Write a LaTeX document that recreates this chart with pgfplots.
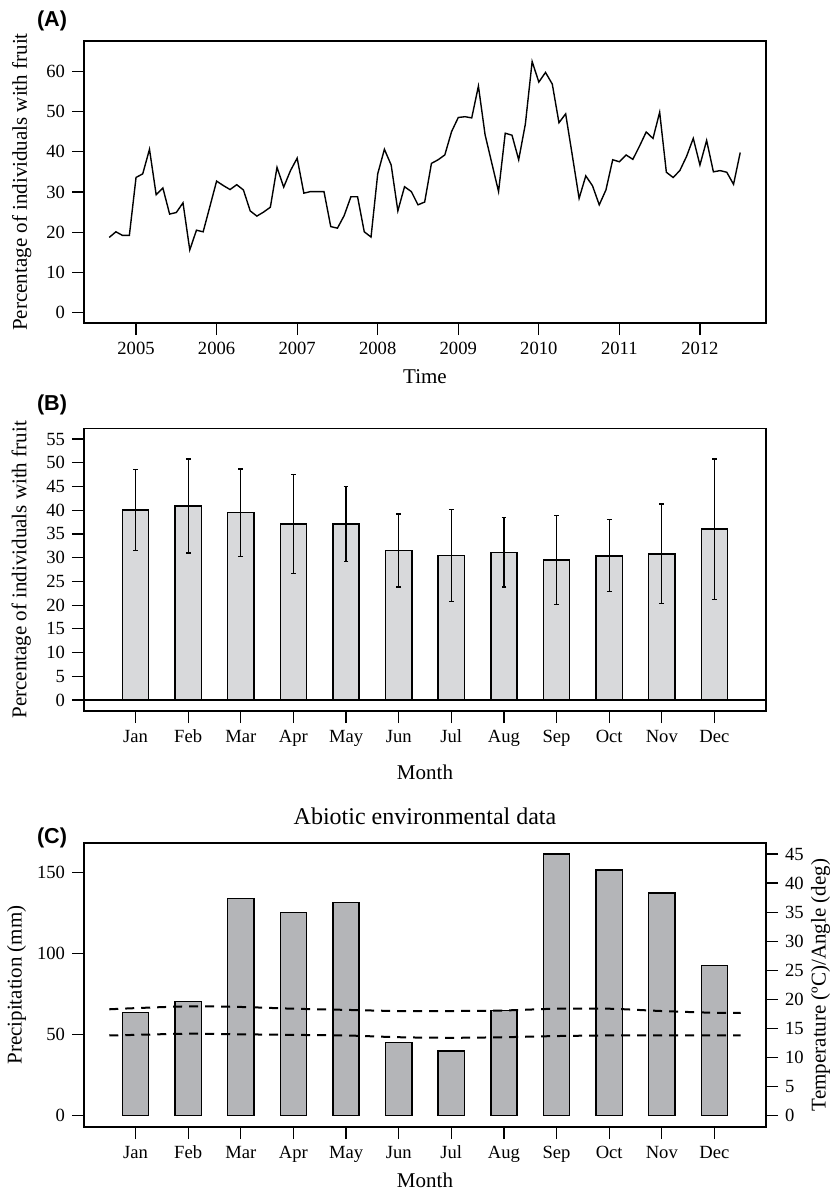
\documentclass[border=0pt]{standalone}
\usepackage{fontspec}
\setmainfont{Liberation Serif}
\newfontfamily\panelfont{Liberation Sans}
\usepackage{pgfplots}
\pgfplotsset{compat=1.18}

\definecolor{BarLight}{HTML}{D8D9DB}
\definecolor{BarMid}{HTML}{B4B5B8}

\pgfplotsset{
  rstyle/.style={
    scale only axis,
    anchor=south west,
    width=341pt,
    tick align=outside,
    major tick length=6pt,
    axis line style={line width=0.75pt},
    tick style={line width=0.6pt,black},
    tick label style={font=\fontsize{9.3}{10}\selectfont},
    label style={font=\fontsize{10.5}{12}\selectfont},
    /pgf/number format/assume math mode=true,
    /pgf/number format/1000 sep={},
  },
  ylab/.style={ylabel style={at={(axis description cs:#1,0.5)},anchor=center}},
  xlab/.style={xlabel style={at={(axis description cs:0.5,#1)},anchor=center}},
}

\begin{document}
\begin{tikzpicture}

% ---------- (A) time series ----------
\begin{axis}[rstyle,
  at={(42pt,-161.5pt)}, height=141pt,
  xmin=2004.354, xmax=2012.82, ymin=-2.56, ymax=67.5,
  xtick={2005,2006,2007,2008,2009,2010,2011,2012},
  ytick={0,10,20,30,40,50,60},
  xtick pos=left, ytick pos=left,
  xlabel={Time}, xlab=-0.19,
  ylabel={Percentage of individuals with fruit}, ylab=-0.0913,
]
\addplot[black, line width=0.7pt] coordinates {
(2004.667,18.7) (2004.750,20.1) (2004.833,19.2) (2004.917,19.2)
(2005.000,33.6) (2005.083,34.5) (2005.167,40.6) (2005.250,29.3)
(2005.333,31.0) (2005.417,24.5) (2005.500,24.9) (2005.583,27.3)
(2005.667,15.6) (2005.750,20.5) (2005.833,20.1) (2005.917,26.4)
(2006.000,32.7) (2006.083,31.6) (2006.167,30.6) (2006.250,31.8)
(2006.333,30.5) (2006.417,25.3) (2006.500,24.0) (2006.583,25.0)
(2006.667,26.2) (2006.750,36.1) (2006.833,31.2) (2006.917,35.3)
(2007.000,38.4) (2007.083,29.7) (2007.167,30.1) (2007.250,30.1)
(2007.333,30.1) (2007.417,21.4) (2007.500,21.0) (2007.583,24.1)
(2007.667,28.8) (2007.750,28.8) (2007.833,20.1) (2007.917,18.8)
(2008.000,34.5) (2008.083,40.6) (2008.167,36.7) (2008.250,25.3)
(2008.333,31.3) (2008.417,30.1) (2008.500,26.8) (2008.583,27.5)
(2008.667,37.1) (2008.750,38.0) (2008.833,39.2) (2008.917,45.0)
(2009.000,48.5) (2009.083,48.7) (2009.167,48.4) (2009.250,56.3)
(2009.333,44.2) (2009.417,37.1) (2009.500,30.1) (2009.583,44.6)
(2009.667,44.1) (2009.750,38.0) (2009.833,46.9) (2009.917,62.4)
(2010.000,57.3) (2010.083,59.7) (2010.167,56.8) (2010.250,47.2)
(2010.333,49.4) (2010.417,38.9) (2010.500,28.4) (2010.583,34.0)
(2010.667,31.5) (2010.750,26.8) (2010.833,30.5) (2010.917,38.0)
(2011.000,37.5) (2011.083,39.2) (2011.167,38.1) (2011.250,41.4)
(2011.333,44.9) (2011.417,43.3) (2011.500,49.8) (2011.583,34.9)
(2011.667,33.6) (2011.750,35.3) (2011.833,38.8) (2011.917,43.3)
(2012.000,36.7) (2012.083,42.8) (2012.167,35.0) (2012.250,35.3)
(2012.333,34.9) (2012.417,31.9) (2012.500,39.8)
};
\end{axis}

% ---------- (B) monthly means ----------
\begin{axis}[rstyle,
  at={(42pt,-355.5pt)}, height=141.15pt,
  xmin=0.02, xmax=12.98, ymin=-2.32, ymax=57.17,
  xtick={1,2,3,4,5,6,7,8,9,10,11,12},
  xticklabels={Jan,Feb,Mar,Apr,May,Jun,Jul,Aug,Sep,Oct,Nov,Dec},
  ytick={0,5,10,15,20,25,30,35,40,45,50,55},
  xtick pos=left, ytick pos=left,
  xlabel={Month}, xlab=-0.2186,
  ylabel={Percentage of individuals with fruit}, ylab=-0.092,
]
\addplot[ybar, bar width=0.5, draw=black, line width=0.75pt, fill=BarLight,
  error bars/.cd, y dir=both, y explicit,
  error bar style={line width=0.6pt,black},
  error mark options={rotate=90,mark size=1.2pt,line width=0.6pt,black}]
coordinates {
(1,40.0) +- (0,8.5)
(2,40.9) +- (0,9.9)
(3,39.5) +- (0,9.2)
(4,37.1) +- (0,10.5)
(5,37.1) +- (0,7.9)
(6,31.5) +- (0,7.7)
(7,30.5) +- (0,9.7)
(8,31.1) +- (0,7.3)
(9,29.5) +- (0,9.3)
(10,30.4) +- (0,7.6)
(11,30.8) +- (0,10.5)
(12,36.0) +- (0,14.8)
};
\addplot[black, line width=0.6pt] coordinates {(0.02,0) (12.98,0)};
\end{axis}

% ---------- (C) abiotic data: precipitation ----------
\begin{axis}[rstyle,
  at={(42pt,-563.5pt)}, height=142pt,
  xmin=0.02, xmax=12.98, ymin=-6.98, ymax=168.3,
  xtick={1,2,3,4,5,6,7,8,9,10,11,12},
  xticklabels={Jan,Feb,Mar,Apr,May,Jun,Jul,Aug,Sep,Oct,Nov,Dec},
  ytick={0,50,100,150},
  xtick pos=left, ytick pos=left,
  xlabel={Month}, xlab=-0.1866,
  ylabel={Precipitation (mm)}, ylab=-0.099,
  title={Abiotic environmental data},
  title style={at={(axis description cs:0.5,1.053)},anchor=center,font=\fontsize{12}{14}\selectfont},
]
\addplot[ybar, bar width=0.5, draw=black, line width=0.75pt, fill=BarMid]
coordinates {
(1,63.6) (2,70.4) (3,134.2) (4,125.3) (5,131.5) (6,45.3)
(7,40.0) (8,64.8) (9,161.5) (10,151.6) (11,137.4) (12,92.8)
};
\end{axis}

% ---------- (C) temperature / angle, right axis ----------
\begin{axis}[rstyle,
  at={(42pt,-563.5pt)}, height=142pt,
  xmin=0.02, xmax=12.98, ymin=-1.94, ymax=46.89,
  axis x line=none, axis y line*=right,
  ytick={0,5,10,15,20,25,30,35,40,45},
  ylabel={Temperature (ºC)/Angle (deg)}, ylab=1.08,
]
\addplot[black, line width=1pt, dash pattern=on 4.5pt off 3.5pt, smooth] coordinates {
(0.5,18.3) (1,18.5) (2,18.8) (3,18.7) (4,18.4) (5,18.2) (6,18.0) (7,18.0)
(8,18.1) (9,18.4) (10,18.4) (11,18.0) (12,17.7) (12.5,17.7)
};
\addplot[black, line width=1pt, dash pattern=on 4.5pt off 3.5pt, smooth] coordinates {
(0.5,13.8) (1,13.9) (2,14.1) (3,14.0) (4,13.9) (5,13.8) (6,13.5) (7,13.4)
(8,13.5) (9,13.7) (10,13.8) (11,13.8) (12,13.8) (12.5,13.8)
};
\end{axis}

\node[font=\panelfont\bfseries\fontsize{10.8}{12}\selectfont] at (26pt,-10.5pt) {(A)};
\node[font=\panelfont\bfseries\fontsize{10.8}{12}\selectfont] at (26pt,-202.5pt) {(B)};
\node[font=\panelfont\bfseries\fontsize{10.8}{12}\selectfont] at (26pt,-419pt) {(C)};

\pgfresetboundingbox
\useasboundingbox (0,0) rectangle (417.5pt,-595.5pt);
\end{tikzpicture}
\end{document}
